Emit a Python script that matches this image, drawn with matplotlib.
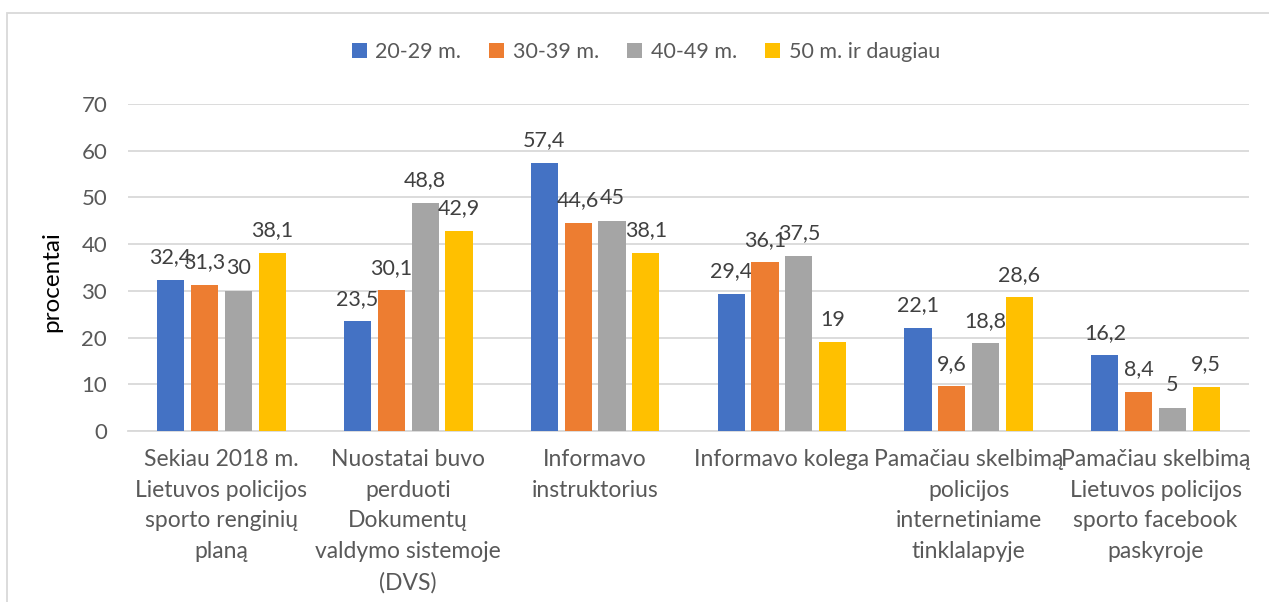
import numpy as np
import matplotlib
matplotlib.use('Agg')
import matplotlib.pyplot as plt
from matplotlib.patches import Rectangle

plt.rcParams['font.family'] = ['Lato', 'DejaVu Sans']

# duomenys
categories = [
    'Sekiau 2018 m.\nLietuvos policijos\nsporto renginių\nplaną',
    'Nuostatai buvo\nperduoti\nDokumentų\nvaldymo sistemoje\n(DVS)',
    'Informavo\ninstruktorius',
    'Informavo kolega',
    'Pamačiau skelbimą\npolicijos\ninternetiniame\ntinklalapyje',
    'Pamačiau skelbimą\nLietuvos policijos\nsporto facebook\npaskyroje',
]
series_names = ['20-29 m.', '30-39 m.', '40-49 m.', '50 m. ir daugiau']
age_20_29 = [32.4, 23.5, 57.4, 29.4, 22.1, 16.2]
age_30_39 = [31.3, 30.1, 44.6, 36.1, 9.6, 8.4]
age_40_49 = [30, 48.8, 45, 37.5, 18.8, 5]
age_50_plus = [38.1, 42.9, 38.1, 19, 28.6, 9.5]
yticks = [0, 10, 20, 30, 40, 50, 60, 70]

colors = ['#4472C4', '#ED7D31', '#A5A5A5', '#FFC000']
series = [age_20_29, age_30_39, age_40_49, age_50_plus]

fig = plt.figure(figsize=(12.69, 6.02), dpi=100)
ax = fig.add_axes([128/1269, 1 - 431/602, (1249-128)/1269, (431-104)/602])

x = np.arange(len(categories))
step = 0.181
width = 0.145
for i, (vals, col, name) in enumerate(zip(series, colors, series_names)):
    pos = x + (i - 1.5) * step
    bars = ax.bar(pos, vals, width, color=col, label=name, zorder=3)
    for b, v in zip(bars, vals):
        txt = f'{v:g}'.replace('.', ',')
        ax.annotate(txt, (b.get_x() + b.get_width()/2, v), xytext=(0, 9),
                    textcoords='offset points', ha='center', va='bottom',
                    fontsize=15.5, color='#404040')

ax.set_xlim(-0.5, len(categories) - 0.5)
ax.set_ylim(0, 70)
ax.set_yticks(yticks)
ax.yaxis.grid(True, color='#D9D9D9', linewidth=1.3, zorder=0)
for s in ['top', 'right', 'left']:
    ax.spines[s].set_visible(False)
ax.spines['bottom'].set_color('#D9D9D9')
ax.spines['bottom'].set_linewidth(1.3)
ax.set_xticks(x)
ax.set_xticklabels(categories, linespacing=1.57)
ax.tick_params(axis='x', length=0, pad=13, labelsize=16.5, labelcolor='#595959')
ax.tick_params(axis='y', length=0, pad=15, labelsize=16, labelcolor='#595959')
ax.set_ylabel('procentai', fontsize=17.5, color='black')
ax.yaxis.set_label_coords(-0.059, 0.456)

fig.legend(loc='center', bbox_to_anchor=(0.509, 0.914), ncol=4, frameon=False,
           fontsize=15.5, labelcolor='#595959', handlelength=0.7, handleheight=0.7,
           handletextpad=0.4, columnspacing=1.3)

# ramelis aplink diagramą
fig.patches.append(Rectangle((7/1269, -0.1), 1.0, 1.1 - 13/602, transform=fig.transFigure,
                             fill=False, edgecolor='#D9D9D9', linewidth=1.3))

fig.savefig('out.png', dpi=100)
